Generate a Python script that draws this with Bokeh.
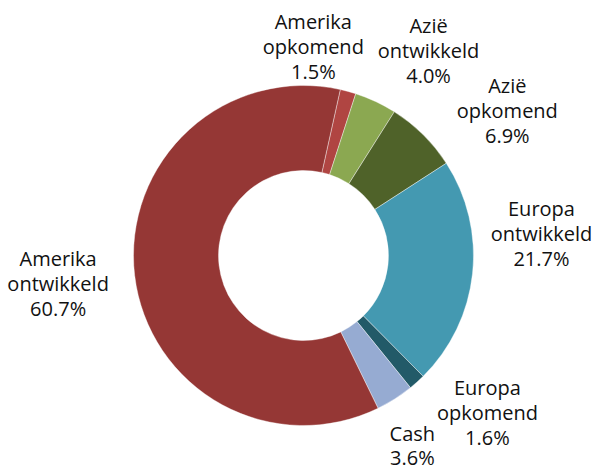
import math
from bokeh.plotting import figure
from bokeh.models import ColumnDataSource, Range1d
from bokeh.core.properties import value
from bokeh.embed import file_html
from bokeh.resources import INLINE

# Data (clockwise from the top)
categories = ["Amerika\nopkomend", "Azië\nontwikkeld", "Azië\nopkomend",
              "Europa\nontwikkeld", "Europa\nopkomend", "Cash",
              "Amerika\nontwikkeld"]
shares = [1.5, 4.0, 6.9, 21.7, 1.6, 3.6, 60.7]
colors = ["#B04542", "#8BA851", "#4F6229", "#4499B1", "#225A68", "#96ABD2", "#953735"]

# Layout
W, H = 598, 470
cx, cy = 303, 215          # centre in figure pixels (y up)
r_out, r_in = 170, 85
start_deg = 12.5           # first slice starts this far clockwise from top
label_nudge = [-12.5, 6.3, 9.9, -11.5, -7.6, 2.7, 0.2]
label_r = [209, 240, 250, 239, 242, 219, 247]

total = sum(shares)
starts, ends, lx, ly, texts = [], [], [], [], []
acc = start_deg
for i, s in enumerate(shares):
    a0 = acc
    a1 = acc + s / total * 360.0
    acc = a1
    # bokeh angles: anticlockwise from +x
    starts.append(math.radians(90 - a1))
    ends.append(math.radians(90 - a0))
    mid = (a0 + a1) / 2 + label_nudge[i]
    lx.append(cx + label_r[i] * math.sin(math.radians(mid)))
    ly.append(cy + label_r[i] * math.cos(math.radians(mid)))
    texts.append(f"{categories[i]}\n{s:.1f}%")

src = ColumnDataSource(dict(start=starts, end=ends, color=colors))
lab = ColumnDataSource(dict(x=lx, y=ly, text=texts))

p = figure(width=W, height=H, output_backend="svg", toolbar_location=None,
           x_range=Range1d(0, W), y_range=Range1d(0, H), min_border=0)
p.axis.visible = False
p.grid.visible = False
p.outline_line_color = None
p.background_fill_color = "white"

p.annular_wedge(x=cx, y=cy, inner_radius=r_in, outer_radius=r_out,
                start_angle="start", end_angle="end", direction="anticlock",
                fill_color="color", line_color="white", line_width=0.4,
                source=src)

p.text(x="x", y="y", text="text", source=lab, text_align="center",
       text_baseline="middle", text_font=value("Open Sans"),
       text_font_size="20px", text_color="#111111", text_line_height=0.92)

open("out.html", "w").write(file_html(p, INLINE))
